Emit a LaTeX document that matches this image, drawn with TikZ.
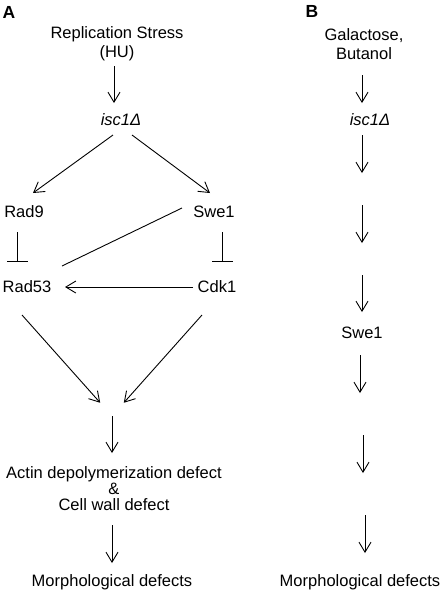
\documentclass[tikz,border=0pt]{standalone}
\usepackage{fontspec}
\setmainfont{Liberation Sans}
\usetikzlibrary{arrows.meta}

\tikzset{
  lab/.style={font=\fontsize{16.5}{19}\selectfont, inner sep=0pt, align=center},
  panel/.style={font=\fontsize{17.5}{17.5}\selectfont\bfseries, inner sep=0pt},
  act/.style={-{Straight Barb[length=10pt,width=12pt]}, line width=0.9pt},
  inh/.style={-{Bar[width=21pt]}, line width=0.9pt},
  assoc/.style={line width=0.9pt}
}

\begin{document}
\begin{tikzpicture}[x=1pt,y=-1pt]
\useasboundingbox (0,0) rectangle (442,590);

% panel A
\node[panel] (panA) at (9,12){A};
\node[lab] (rs) at (117,44){Replication Stress\\(HU)};
\node[lab] (isc) at (121,120){\textit{isc1Δ}};
\node[lab] (rad9) at (24,212){Rad9};
\node[lab] (swe1) at (214,212){Swe1};
\node[lab] (rad53) at (27,287){Rad53};
\node[lab] (cdk1) at (217,287){Cdk1};
\coordinate (jn) at (112,416);
\node[lab,font=\fontsize{16.5}{16}\selectfont] (actin) at (114,489){Actin depolymerization defect\\\&\\Cell wall defect};
\node[lab] (morphA) at (112,582){Morphological defects};

\draw[act] ([shift={(-3,22)}]rs.center) -- ([shift={(-7,-17)}]isc.center);
\draw[act] ([shift={(-8,15)}]isc.center) -- ([shift={(9,-19)}]rad9.center);
\draw[act] ([shift={(11,15)}]isc.center) -- ([shift={(-4,-19)}]swe1.center);
\draw[inh] ([shift={(-7,20)}]rad9.center) -- ([shift={(-10,-25)}]rad53.center);
\draw[inh] ([shift={(8,20)}]swe1.center) -- ([shift={(5,-25)}]cdk1.center);
\draw[assoc] ([shift={(-32,-4)}]swe1.center) -- ([shift={(35,-21)}]rad53.center);
\draw[act] ([shift={(-24,0)}]cdk1.center) -- ([shift={(38,0)}]rad53.center);
\draw[act,shorten >=17.7pt] ([shift={(-5,28)}]rad53.center) -- (jn);
\draw[act,shorten >=17.7pt] ([shift={(-15,28)}]cdk1.center) -- (jn);
\draw[act] (jn) -- ([shift={(-2,-36)}]actin.center);
\draw[act] ([shift={(-2,36)}]actin.center) -- ([shift={(0,-19)}]morphA.center);

% panel B
\node[panel] (panB) at (312,11){B};
\node[lab] (gal) at (364,44){Galactose,\\Butanol};
\node[lab] (iscB) at (370,120){\textit{isc1Δ}};
\node[lab] (swe1B) at (362,333){Swe1};
\node[lab] (morphB) at (360,582){Morphological defects};
\coordinate (b1e) at (362,173);
\coordinate (b2s) at (362,205);
\coordinate (b2e) at (362,243);
\coordinate (b3s) at (362,275);
\coordinate (b4e) at (360,393);
\coordinate (b5s) at (363,435);
\coordinate (b5e) at (363,473);
\coordinate (b6s) at (365,515);

\draw[act] ([shift={(-2,31)}]gal.center) -- ([shift={(-8,-17)}]iscB.center);
\draw[act] ([shift={(-8,15)}]iscB.center) -- (b1e);
\draw[act] (b2s) -- (b2e);
\draw[act] (b3s) -- ([shift={(0,-21)}]swe1B.center);
\draw[act] ([shift={(-2,22)}]swe1B.center) -- (b4e);
\draw[act] (b5s) -- (b5e);
\draw[act] (b6s) -- ([shift={(5,-29)}]morphB.center);
\end{tikzpicture}
\end{document}
